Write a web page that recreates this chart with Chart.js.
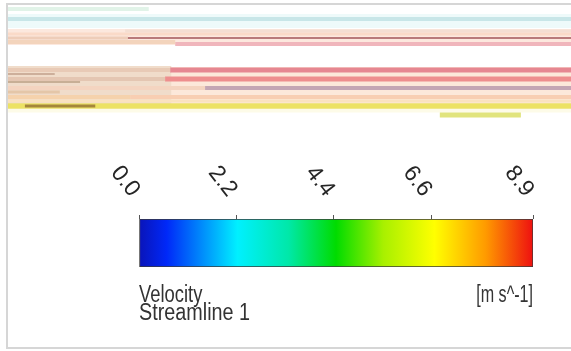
<!DOCTYPE html>
<html lang="en">
<head>
    <meta charset="UTF-8">
    <title>Velocity - Streamline 1</title>
    <script src="https://cdn.jsdelivr.net/npm/chart.js"></script>
    <style>
        body { margin: 0; background: #fff; width: 571px; height: 351px; overflow: hidden; position: relative; }
        #frame { position: absolute; left: 6px; top: 3px; width: 600px; height: 342px; border: 2px solid #d6d6d6; border-right: none; }
        #streamChart { position: absolute; left: 8px; top: 0; }
        #barChart { position: absolute; left: 0; top: 0; }
    </style>
</head>
<body>
    <div id="frame"></div>
    <canvas id="streamChart" width="563" height="125"></canvas>
    <canvas id="barChart" width="571" height="351"></canvas>

    <script>
        // streak segments: position along the duct (0-100 %), depth from the top wall
        // the last five are the broad tinted zones drawn underneath the streaks
        const streakStart = [0, 3.0, 0, 21.3, 0, 20.8, 0, 0, 0, 29.7, 0, 28.8, 0, 0, 27.9, 0, 0, 35.0, 0, 0, 21.7, 0, 0, 76.7, 0, 0, 0, 0, 0];
        const streakEnd = [25.0, 15.5, 100, 100, 21.3, 100, 100, 29.7, 100, 100, 28.8, 100, 8.3, 27.9, 100, 12.8, 35.0, 100, 9.2, 21.7, 100, 100, 100, 91.1, 100, 100, 29.0, 100, 100];
        const streakDepth = [9, 106, 19, 38, 38, 31, 34, 42, 106, 44, 70, 70, 74, 79, 79, 82, 88, 88, 92, 97, 97, 101, 106, 115, 21, 37, 86, 87, 110];
        const streakColors = [
            'rgb(225,243,232)', 'rgb(165,135,60)', 'rgb(200,230,232)', 'rgb(185,122,122)',
            'rgb(238,205,185)', 'rgb(244,222,210)', 'rgb(250,218,200)', 'rgb(243,212,188)',
            'rgb(236,226,100)', 'rgb(240,182,188)', 'rgb(232,202,182)', 'rgb(230,135,145)',
            'rgb(205,175,155)', 'rgb(228,198,178)', 'rgb(238,142,142)', 'rgb(200,175,150)',
            'rgb(244,212,192)', 'rgb(196,166,180)', 'rgb(228,198,168)', 'rgb(245,210,172)',
            'rgb(248,206,178)', 'rgb(250,226,192)', 'rgb(238,228,120)', 'rgb(225,228,125)',
            'rgb(238,250,250)', 'rgb(252,232,222)', 'rgb(240,220,202)', 'rgb(252,232,218)',
            'rgb(253,251,232)'
        ];
        const streakWidths = [4, 3, 4, 2, 3, 3, 3, 4, 5, 4, 4, 5, 2, 4, 5, 2, 4, 4, 3, 4, 4, 3, 5, 5, 14, 16, 40, 40, 5];

        // colour legend
        const velocityMin = 0;
        const velocityMax = 8.9;
        const tickValues = [0, 2.2, 4.4, 6.6, 8.9];
        const tickLabels = ['0.0', '2.2', '4.4', '6.6', '8.9'];
        const variableName = 'Velocity';
        const objectName = 'Streamline 1';
        const unitLabel = '[m s^-1]';

        const streamDatasets = streakDepth.map((d, i) => ({
            data: [{ x: streakStart[i], y: d }, { x: streakEnd[i], y: d }],
            showLine: true,
            borderColor: streakColors[i],
            borderWidth: streakWidths[i],
            pointRadius: 0
        }));

        new Chart(document.getElementById('streamChart'), {
            type: 'scatter',
            data: { datasets: streamDatasets },
            options: {
                responsive: false,
                animation: false,
                devicePixelRatio: 1,
                layout: { padding: 0 },
                plugins: { legend: { display: false }, tooltip: { enabled: false } },
                scales: {
                    x: { display: false, min: 0, max: 100 },
                    y: { display: false, min: 0, max: 125, reverse: true }
                }
            }
        });

        // condensed text: the narrow face is not installed, so squeeze a regular one
        function narrowText(ctx, text, x, y, align, squeeze) {
            ctx.save();
            ctx.translate(x, y);
            ctx.scale(squeeze, 1);
            ctx.textAlign = align;
            ctx.fillText(text, 0, 0);
            ctx.restore();
        }

        const legendText = {
            id: 'legendText',
            afterDraw(chart) {
                const ctx = chart.ctx;
                const area = chart.chartArea;
                const scale = chart.scales.x;
                ctx.save();
                ctx.fillStyle = '#262626';
                ctx.font = '23px "Liberation Sans", sans-serif';
                ctx.textAlign = 'right';
                ctx.textBaseline = 'middle';
                tickValues.forEach((v, i) => {
                    const px = scale.getPixelForValue(v);
                    ctx.save();
                    ctx.translate(px - 4, area.top - 25);
                    ctx.rotate(52 * Math.PI / 180);
                    ctx.fillText(tickLabels[i], 0, 0);
                    ctx.restore();
                });
                ctx.fillStyle = '#333';
                ctx.font = '23px "Liberation Sans", sans-serif';
                ctx.textBaseline = 'alphabetic';
                narrowText(ctx, variableName, area.left, area.bottom + 35, 'left', 0.8);
                narrowText(ctx, objectName, area.left, area.bottom + 53, 'left', 0.86);
                narrowText(ctx, unitLabel, area.right, area.bottom + 35, 'right', 0.7);
                ctx.restore();
            }
        };

        new Chart(document.getElementById('barChart'), {
            type: 'bar',
            data: {
                labels: [variableName],
                datasets: [{
                    data: [[velocityMin, velocityMax]],
                    backgroundColor: (c) => {
                        const area = c.chart.chartArea;
                        if (!area) return '#00e000';
                        const g = c.chart.ctx.createLinearGradient(area.left, 0, area.right, 0);
                        g.addColorStop(0, '#0a14b8');
                        g.addColorStop(0.07, '#0028f8');
                        g.addColorStop(0.25, '#00f0ff');
                        g.addColorStop(0.38, '#00e8a8');
                        g.addColorStop(0.5, '#00dc00');
                        g.addColorStop(0.62, '#a8f000');
                        g.addColorStop(0.75, '#ffff00');
                        g.addColorStop(0.88, '#ff9a00');
                        g.addColorStop(1, '#ee1010');
                        return g;
                    },
                    borderColor: '#3a3a3a',
                    borderWidth: 1,
                    borderSkipped: false,
                    barPercentage: 1,
                    categoryPercentage: 1
                }]
            },
            options: {
                indexAxis: 'y',
                responsive: false,
                animation: false,
                devicePixelRatio: 1,
                layout: { padding: { left: 139, right: 38, top: 215, bottom: 84 } },
                plugins: { legend: { display: false }, tooltip: { enabled: false } },
                scales: {
                    x: {
                        position: 'top',
                        min: velocityMin,
                        max: velocityMax,
                        afterBuildTicks: (axis) => { axis.ticks = tickValues.map(v => ({ value: v })); },
                        ticks: { display: false },
                        grid: { drawOnChartArea: false, drawTicks: true, tickLength: 4, color: '#555' },
                        border: { display: false }
                    },
                    y: { display: false }
                }
            },
            plugins: [legendText]
        });
    </script>
</body>
</html>
